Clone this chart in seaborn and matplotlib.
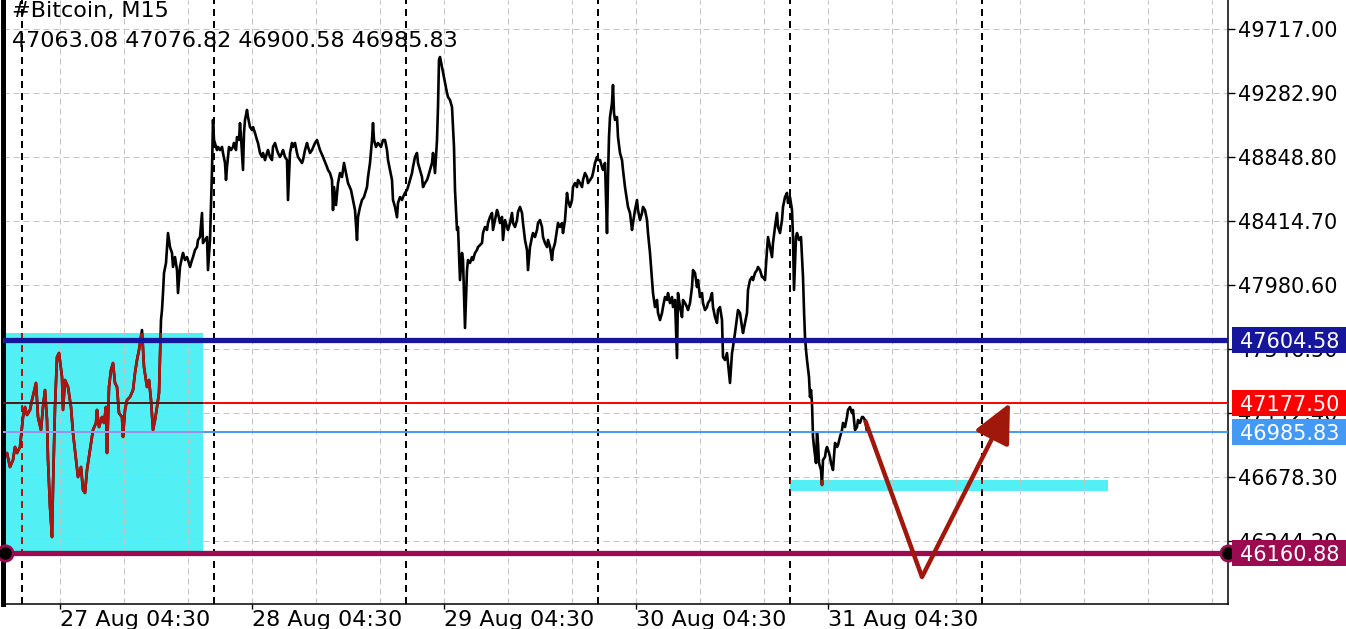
import matplotlib
matplotlib.use("Agg")
import matplotlib.pyplot as plt
import matplotlib.transforms as mtransforms
from matplotlib.patches import Rectangle
import seaborn as sns
import pandas as pd

# --- data: 15 min bars (0 = 27 Aug day separator), close price ---
bars = [
    -7.5, -6, -4.5, -3.5, -2.5, -1, 0.5, 1.5, 2.5, 4,
    5, 7, 8, 9.5, 10.5, 11.5, 12.5, 13, 14, 15,
    15.5, 16.5, 17.5, 18.5, 20, 20.5, 21.5, 23, 24.5, 25.5,
    27, 28, 29.5, 30.5, 31.5, 32.5, 34.5, 35.5, 37, 37.5,
    38.5, 40, 41, 42, 42.5, 43.5, 44.5, 45.5, 46.5, 47.5,
    48.5, 50, 50.5, 51.5, 52.5, 54, 55.5, 56.5, 57.5, 58.5,
    60, 61, 62.5, 63.5, 64.5, 65.5, 66.5, 67.5, 68.5, 69.5,
    70, 70.5, 71, 72, 73, 74, 75, 75.5, 76.5, 77.5,
    78, 79, 80, 80.5, 81.5, 82.5, 83, 84, 85, 85.5,
    86.5, 87.5, 88, 89, 90, 90.5, 91.5, 92.5, 93, 94,
    95, 95.5, 96, 97.5, 98, 99, 100, 100.5, 101.5, 102,
    102.5, 103.5, 104.5, 105.5, 106, 107, 107.5, 108.5, 109, 109.5,
    110.5, 111, 111.5, 112.5, 113, 114, 115, 115.5, 116.5, 117.5,
    118, 119, 120, 120.5, 121.5, 122.5, 123, 124, 125, 125.5,
    126.5, 127.5, 128, 129, 130, 130.5, 131.5, 132.5, 133, 134,
    135, 135.5, 136.5, 137.5, 138, 139, 140, 140.5, 141.5, 142.5,
    143, 144, 145, 146.5, 147.5, 149, 150.5, 152.5, 153, 154,
    155, 155.5, 156, 157, 158, 159, 160, 161, 162, 163,
    164.5, 165.5, 166.5, 167.5, 168, 169, 170, 171, 172.5, 173,
    174, 175, 175.5, 176, 177, 178, 179.5, 180.5, 181.5, 182.5,
    183, 184, 185, 185.5, 186.5, 187.5, 188, 189, 190, 190.5,
    191.5, 192.5, 193, 194, 195, 195.5, 196.5, 197.5, 198, 199,
    200, 200.5, 201.5, 202.5, 203, 204, 205, 205.5, 206.5, 207.5,
    208, 208.5, 209, 210, 211.5, 212.5, 213, 214, 215, 215.5,
    216, 216.5, 217.5, 218, 219, 220, 220.5, 221.5, 222.5, 223,
    224, 225, 225.5, 226.5, 227.5, 228, 230, 230.5, 231.5, 232.5,
    233, 234, 235, 235.5, 236.5, 237.5, 238, 239, 240, 240.5,
    241.5, 242.5, 243, 244, 245, 245.5, 246.5, 247.5, 248, 249,
    250, 250.5, 251.5, 252.5, 253, 254, 255, 255.5, 256.5, 257.5,
    258, 259, 260, 260.5, 261.5, 262.5, 263, 264, 265, 265.5,
    266.5, 267.5, 268, 269, 270, 270.5, 271.5, 272.5, 273, 274,
    275, 275.5, 276.5, 277.5, 278, 279, 280, 280.5, 281.5, 282.5,
    283, 284, 285, 285.5, 286.5, 287.5, 288, 289, 290, 290.5,
    291.5, 292.5, 293, 293.5, 294, 295, 295.5, 296, 296.5, 297.5,
    298, 299, 300, 300.5, 301.5, 302.5, 303, 304, 305, 305.5,
    306.5, 307.5, 308, 309, 310, 310.5, 311.5, 312.5, 313, 314,
    315, 315.5, 316.5, 317.5, 318, 319, 320, 320.5, 321.5, 322.5,
    323, 324, 325, 325.5, 326.5, 327.5, 328, 329, 330, 330.5,
    331.5, 332.5, 333, 334, 335, 335.5, 336.5, 337.5, 338, 339,
    340, 340.5, 341.5, 342.5, 343, 344, 345, 345.5, 346.5, 347.5,
    348, 349, 350, 350.5, 351.5, 352.5, 353, 354, 355, 355.5,
    356.5, 357.5, 358, 359, 360, 360.5, 361.5, 362.5, 363, 364,
    365, 365.5, 366.5, 367.5, 368, 369, 370, 370.5, 371.5, 372.5,
    373, 374, 375, 375.5, 376.5, 377.5, 378, 379, 380, 380.5,
    381.5, 382.5, 383, 384, 385, 385.5, 386, 387, 387.5, 388.5,
    389.5, 390, 390.5, 391, 391.5, 392, 392.5, 393.5, 394, 394.5,
    395, 395.5, 396, 397, 397.5, 398, 398.5, 399.5, 400, 400.5,
    401.5, 402, 402.5, 403.5, 404, 404.5, 405.5, 406, 406.5, 407.5,
    408, 409, 410, 410.5, 411.5, 412.5, 413, 414, 415, 415.5,
    416.5, 417.5, 418, 419, 420, 420.5, 421.5, 422.5,
]
close = [
    46841, 46746, 46794, 46882, 46841, 46882, 47085, 47153, 47099, 47133,
    47200, 47316, 47085, 46997, 47153, 47268, 47065, 46794, 46475, 46271,
    46610, 47153, 47492, 47519, 47356, 47133, 47336, 47289, 47153, 46977,
    46794, 46678, 46746, 46590, 46570, 46726, 46909, 46997, 47045, 47133,
    47017, 47085, 47045, 47153, 46841, 47289, 47404, 47451, 47316, 47289,
    47112, 47085, 46950, 47133, 47200, 47221, 47268, 47384, 47472, 47540,
    47675, 47424, 47289, 47336, 47200, 46997, 47065, 47153, 47248, 47743,
    47811, 47926, 48062, 48130, 48333, 48238, 48198, 48103, 48170, 48082,
    47926, 48103, 48170, 48198, 48150, 48170, 48150, 48103, 48150, 48170,
    48218, 48238, 48286, 48306, 48469, 48265, 48286, 48306, 48082, 48286,
    48761, 49100, 48964, 48896, 48917, 48896, 48917, 48876, 48808, 48693,
    48781, 48917, 48896, 48917, 48944, 48896, 48984, 48964, 49079, 48984,
    48761, 49012, 49100, 49168, 49120, 49052, 49032, 49052, 49012, 48964,
    48944, 48876, 48849, 48876, 48828, 48876, 48896, 48849, 48828, 48917,
    48944, 48896, 48876, 48849, 48876, 48896, 48849, 48828, 48557, 48876,
    48944, 48917, 48944, 48876, 48849, 48828, 48808, 48828, 48896, 48944,
    48917, 48876, 48896, 48944, 48964, 48896, 48849, 48781, 48761, 48740,
    48693, 48489, 48645, 48523, 48672, 48740, 48713, 48808, 48740, 48672,
    48625, 48557, 48489, 48286, 48442, 48510, 48557, 48577, 48645, 48713,
    48808, 48964, 49079, 48964, 48917, 48944, 48917, 48964, 48964, 48896,
    48828, 48761, 48693, 48557, 48510, 48440, 48537, 48577, 48557, 48577,
    48605, 48625, 48645, 48693, 48740, 48781, 48849, 48876, 48808, 48761,
    48713, 48645, 48672, 48693, 48713, 48761, 48808, 48876, 48740, 48964,
    49188, 49507, 49527, 49459, 49351, 49283, 49256, 49235, 49188, 49052,
    48917, 48625, 48354, 48374, 48014, 48198, 48150, 47689, 48082, 48150,
    48130, 48170, 48150, 48198, 48218, 48238, 48265, 48333, 48374, 48354,
    48401, 48442, 48469, 48354, 48421, 48489, 48469, 48401, 48442, 48286,
    48421, 48374, 48354, 48401, 48469, 48401, 48374, 48421, 48476, 48510,
    48469, 48401, 48286, 48218, 48082, 48238, 48306, 48333, 48306, 48354,
    48401, 48421, 48374, 48306, 48265, 48238, 48286, 48238, 48150, 48218,
    48265, 48354, 48401, 48374, 48401, 48333, 48421, 48605, 48557, 48510,
    48557, 48645, 48672, 48645, 48693, 48672, 48645, 48693, 48740, 48713,
    48672, 48693, 48713, 48740, 48808, 48849, 48828, 48828, 48781, 48761,
    48808, 48333, 48713, 48984, 49120, 49215, 49337, 49147, 49100, 49120,
    48984, 48876, 48828, 48761, 48645, 48557, 48510, 48469, 48354, 48401,
    48489, 48557, 48489, 48421, 48469, 48510, 48489, 48421, 48333, 48198,
    48014, 47926, 47831, 47879, 47791, 47743, 47791, 47831, 47899, 47879,
    47926, 47858, 47899, 47831, 47879, 47485, 47926, 47831, 47763, 47879,
    47858, 47831, 47811, 47858, 47967, 48082, 48062, 47967, 48014, 47899,
    47926, 47858, 47811, 47831, 47858, 47879, 47926, 47831, 47763, 47723,
    47811, 47831, 47743, 47492, 47472, 47519, 47451, 47316, 47519, 47560,
    47655, 47763, 47811, 47791, 47696, 47655, 47723, 47791, 47947, 48014,
    48035, 48014, 48062, 48082, 48103, 48082, 48035, 48035, 48014, 48218,
    48306, 48238, 48170, 48265, 48374, 48469, 48374, 48333, 48421, 48510,
    48577, 48605, 48537, 48577, 48489, 48306, 47947, 48306, 48333, 48286,
    48306, 48170, 48035, 47811, 47628, 47540, 47472, 47356, 47221, 47268,
    47180, 46950, 46882, 46773, 46977, 46909, 46773, 46726, 46624, 46794,
    46814, 46861, 46882, 46841, 46814, 46773, 46726, 46814, 46909, 46882,
    46895, 46950, 46997, 47045, 47017, 47085, 47133, 47153, 47112, 47133,
    46997, 47017, 47065, 47045, 47085, 47085, 47065, 46986,
]

price_ticks = [49717.00, 49282.90, 48848.80, 48414.70, 47980.60,
               47546.50, 47112.40, 46678.30, 46244.20]
day_separators = [0, 96, 192, 288, 384, 480]
grid_bars = list(range(19, 600, 32))
date_ticks = [19, 115, 211, 307, 403]
date_labels = ["27 Aug 04:30", "28 Aug 04:30", "29 Aug 04:30",
               "30 Aug 04:30", "31 Aug 04:30"]

levels = [47604.58, 47177.50, 46985.83, 46160.88]
level_colors = ["#16169c", "#ff0000", "#4499f5", "#9a0b50"]
level_widths = [3.8, 1.4, 1.4, 3.8]
level_in_zone = ["#16169c", "#4a1c1c", "#a091ee", "#9a0b50"]

# zones: (bar from, bar to, price low, price high)
zone_a = (-9.5, 90.5, 46176, 47655)
zone_b = (384, 543, 46584, 46658)

arrow_bars = [421.5, 450, 494]
arrow_prices = [47065, 46000, 47180]

symbol = "#Bitcoin, M15"
ohlc = "47063.08 47076.82 46900.58 46985.83"

# --- figure ---
sns.set_theme(style="white")
plt.rcParams["font.family"] = ["DejaVu Sans"]
plt.rcParams["text.color"] = "black"

W, H = 1346, 629
fig = plt.figure(figsize=(W / 100, H / 100), dpi=100)
ax = fig.add_axes([3 / W, 25 / H, 1225 / W, 604 / H])
ax.set_xlim(-9.5, 603)
ax.set_ylim(45816.8, 49913.7)
ax.set_axisbelow(True)

cyan = "#52f0f5"
zones = []
for z in (zone_a, zone_b):
    r = Rectangle((z[0], z[2]), z[1] - z[0], z[3] - z[2], facecolor=cyan,
                  edgecolor="none", zorder=0.2)
    ax.add_patch(r)
    zones.append(r)

grid_style = dict(color="#c4c4c4", lw=0.72, ls=(0, (6, 4)), zorder=0.4)
for p in price_ticks:
    ax.axhline(p, **grid_style)
for b in grid_bars:
    ax.axvline(b, **grid_style)

dark_red = "#b0140e"
for b in day_separators:
    ax.axvline(b, color="black", lw=1.44, ls=(0, (3.5, 2.5)), zorder=1)
    for r in zones:
        ln = ax.axvline(b, color=dark_red, lw=1.44, ls=(0, (3.5, 2.5)), zorder=1.1)
        ln.set_clip_path(r)

# price trace: black, dark red where it crosses the cyan zones
df = pd.DataFrame({"bar": bars, "close": close})
sns.lineplot(data=df, x="bar", y="close", color="black", lw=1.9,
             estimator=None, ax=ax, zorder=2)
for r in zones:
    sns.lineplot(data=df, x="bar", y="close", color=dark_red, lw=1.9,
                 estimator=None, ax=ax, zorder=2.1)
    ax.lines[-1].set_clip_path(r)

for lv, c, w, cin in zip(levels, level_colors, level_widths, level_in_zone):
    ax.axhline(lv, color=c, lw=w, zorder=3)
    if cin != c:
        ln = ax.axhline(lv, color=cin, lw=w, zorder=3.1)
        ln.set_clip_path(zones[0])

# end markers of the bottom level
ax.plot([-8.5, 603], [levels[3], levels[3]], ls="none", marker="o", ms=11,
        mfc="black", mec=level_colors[3], mew=2, clip_on=False, zorder=7)

# forecast arrow
arrow_c = "#a0170b"
ax.plot(arrow_bars[:2], arrow_prices[:2], color=arrow_c, lw=3.2,
        solid_joinstyle="miter", solid_capstyle="butt", zorder=5)
ax.annotate("", xy=(arrow_bars[2], arrow_prices[2]),
            xytext=(arrow_bars[1], arrow_prices[1]),
            arrowprops=dict(arrowstyle="-|>,head_length=2.4,head_width=1.15",
                            mutation_scale=10, lw=3.2, color=arrow_c,
                            shrinkA=0, shrinkB=0),
            zorder=5)

# axes
ax.yaxis.tick_right()
ax.set_yticks(price_ticks, [f"{p:.2f}" for p in price_ticks])
ax.tick_params(axis="y", direction="out", length=5, width=1, colors="black",
               labelsize=15, pad=2, left=False, right=True)
ax.set_xticks(date_ticks, date_labels)
ax.tick_params(axis="x", direction="out", length=3.5, width=1, colors="black",
               labelsize=16, pad=0.5, bottom=True)
for lbl in ax.get_xticklabels():
    lbl.set_horizontalalignment("left")
ax.set_xlabel("")
ax.set_ylabel("")
ax.spines["top"].set_visible(False)
ax.spines["left"].set_linewidth(3.6)
ax.spines["right"].set_linewidth(1.1)
ax.spines["bottom"].set_linewidth(1.1)
for s in ("left", "right", "bottom"):
    ax.spines[s].set_color("black")

# price labels on the right scale
trans = mtransforms.blended_transform_factory(ax.transAxes, ax.transData)
half_h = 13 * (49913.7 - 45816.8) / 604
for lv, c in zip(levels, level_colors):
    box = Rectangle((1.0033, lv - half_h), 0.0935, 2 * half_h, transform=trans,
                    facecolor=c, edgecolor="none", clip_on=False, zorder=8)
    ax.add_patch(box)
    ax.text(1.0098, lv, f"{lv:.2f}", transform=trans, color="white",
            fontsize=15, va="center_baseline", ha="left", clip_on=False,
            zorder=9)

fig.text(12 / W, 1 - 17 / H, symbol, fontsize=16, color="black",
         va="baseline", ha="left")
fig.text(12 / W, 1 - 47 / H, ohlc, fontsize=16, color="black",
         va="baseline", ha="left")

fig.savefig("out.png", dpi=100)
